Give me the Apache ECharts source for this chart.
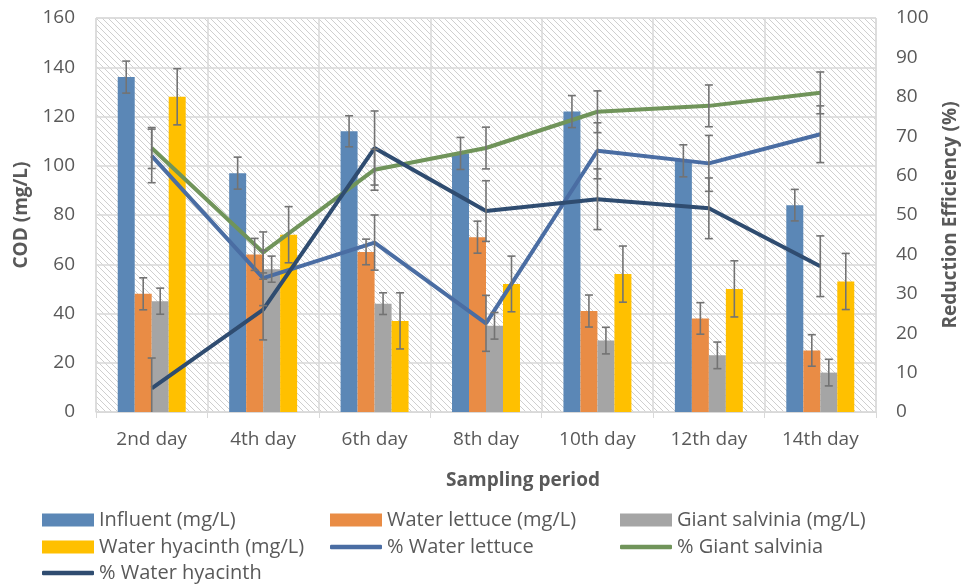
<!DOCTYPE html>
<html><head><meta charset="utf-8">
<script src="https://cdn.jsdelivr.net/npm/echarts@6/dist/echarts.min.js"></script>
<style>html,body{margin:0;padding:0;background:#fff}#c{width:966px;height:585px}</style>
</head><body><div id="c"></div>
<script>
const categories = ['2nd day','4th day','6th day','8th day','10th day','12th day','14th day'];
const influent = [136, 97, 114, 105, 122, 102, 84];
const waterLettuce = [48, 64, 65, 71, 41, 38, 25];
const giantSalvinia = [45, 58, 44, 35, 29, 23, 16];
const waterHyacinth = [128, 72, 37, 52, 56, 50, 53];
const pctWaterLettuce = [65, 34, 43, 22.5, 66.3, 63.1, 70.5];
const pctGiantSalvinia = [67, 40.5, 61.5, 67, 76.2, 77.7, 81];
const pctWaterHyacinth = [6, 26, 67, 51, 54, 51.7, 37];
const influentErr = [6.5, 6.5, 6.3, 6.5, 6.5, 6.5, 6.4];
const waterLettuceErr = [6.5, 6.5, 5.2, 6.5, 6.5, 6.4, 6.4];
const giantSalviniaErr = [5.3, 5.3, 4.4, 5.4, 5.4, 5.4, 5.4];
const waterHyacinthErr = [11.4, 11.4, 11.4, 11.3, 11.4, 11.4, 11.4];
const pctWaterLettuceErr = [6.8, 7, 7, 7.1, 7.1, 7.1, 7.2];
const pctGiantSalviniaErr = [5.2, 5.2, 5.2, 5.3, 5.3, 5.3, 5.3];
const pctWaterHyacinthErr = [7.7, 7.7, 9.4, 7.7, 7.7, 7.7, 7.7];

const FONT = '"Open Sans", "Noto Sans", sans-serif';
const FS = 19;
const TXT = '#595959';

// hatch pattern
const pc = document.createElement('canvas');
pc.width = 6; pc.height = 6;
const g = pc.getContext('2d');
g.fillStyle = '#ffffff'; g.fillRect(0,0,6,6);
g.strokeStyle = '#cfcfcf'; g.lineWidth = 1;
g.beginPath();
g.moveTo(0,0); g.lineTo(6,6);
g.moveTo(-1,5); g.lineTo(1,7);
g.moveTo(5,-1); g.lineTo(7,1);
g.stroke();

const GAP = 0.39;
function errSeries(name, vals, errs, slot, yAxisIndex) {
  return {
    type: 'custom', name: name + '_err', yAxisIndex: yAxisIndex, z: 10,
    data: vals.map((v, i) => [i, v, errs[i]]),
    encode: {x: 0, y: 1},
    silent: true,
    renderItem: function (params, api) {
      const xi = api.value(0), v = api.value(1), e = api.value(2);
      const band = api.size([1, 0])[0];
      const bw = band * (1 - GAP) / 4;
      const dx = slot === null ? 0 : (slot - 1.5) * bw;
      const top = api.coord([xi, v + e]);
      const lowV = v - e;
      const bot = api.coord([xi, Math.max(lowV, 0)]);
      const x = top[0] + dx;
      const st = {stroke: '#737373', lineWidth: 1.6};
      const ch = [
        {type: 'line', shape: {x1: x, y1: top[1], x2: x, y2: bot[1]}, style: st},
        {type: 'line', shape: {x1: x - 4, y1: top[1], x2: x + 4, y2: top[1]}, style: st}
      ];
      if (lowV >= 0) ch.push({type: 'line', shape: {x1: x - 4, y1: bot[1], x2: x + 4, y2: bot[1]}, style: st});
      return {type: 'group', children: ch};
    }
  };
}

const C = {
  inf: '#5B87B6', let: '#E98C45', sal: '#A5A5A5', hya: '#FFC000',
  pLet: '#4A6DA3', pSal: '#70945A', pHya: '#2F4C70'
};

function barS(name, data, color) {
  return {type: 'bar', name: name, data: data, barGap: 0, barCategoryGap: (GAP*100)+'%',
    itemStyle: {color: color}};
}
function lineS(name, data, color) {
  return {type: 'line', name: name, data: data, yAxisIndex: 1, symbol: 'none', z: 5,
    lineStyle: {color: color, width: 4}, itemStyle: {color: color}};
}

const legendText = {color: TXT, fontSize: 20, fontFamily: FONT};
const COLX = [42, 330, 620];
const ROWY = [522, 549, 575];
function leg(name, col, row, isLine) {
  return {left: COLX[col], top: ROWY[row] - 12, itemGap: 0, itemWidth: 52,
    itemHeight: isLine ? 4.5 : 13, icon: isLine ? 'roundRect' : 'rect',
    textStyle: legendText, data: [name], padding: 0,
    itemStyle: {borderWidth: 0}};
}

const chart = echarts.init(document.getElementById('c'), null, {renderer: 'canvas'});
chart.setOption({
  animation: false,
  backgroundColor: '#fff',
  grid: {left: 96, right: 90, top: 18, bottom: 173, show: true, containLabel: false,
    outerBoundsMode: 'none',
    backgroundColor: {image: pc, repeat: 'repeat'}, borderColor: '#d9d9d9', borderWidth: 1},
  legend: [
    leg('Influent (mg/L)', 0, 0, false),
    leg('Water lettuce (mg/L)', 1, 0, false),
    leg('Giant salvinia (mg/L)', 2, 0, false),
    leg('Water hyacinth (mg/L)', 0, 1, false),
    leg('% Water lettuce', 1, 1, true),
    leg('% Giant salvinia', 2, 1, true),
    leg('% Water hyacinth', 0, 2, true)
  ],
  xAxis: {
    type: 'category', data: categories,
    name: 'Sampling period', nameLocation: 'middle', nameGap: 59,
    nameTextStyle: {color: TXT, fontSize: FS, fontWeight: 'bold', fontFamily: FONT,
      padding: [0, 0, 0, 74]},
    axisLine: {lineStyle: {color: '#d9d9d9'}},
    axisTick: {show: true, length: 6, lineStyle: {color: '#d9d9d9'}},
    axisLabel: {color: TXT, fontSize: FS, fontFamily: FONT, margin: 18},
    splitLine: {show: true, lineStyle: {color: '#d9d9d9', width: 1.5}}
  },
  yAxis: [
    {type: 'value', min: 0, max: 160, interval: 20,
      name: 'COD (mg/L)', nameLocation: 'middle', nameGap: 64, nameRotate: 90,
      nameTextStyle: {color: TXT, fontSize: FS, fontWeight: 'bold', fontFamily: FONT},
      axisLine: {show: false}, axisTick: {show: false},
      axisLabel: {color: TXT, fontSize: FS, fontFamily: FONT, margin: 21},
      splitLine: {lineStyle: {color: '#d9d9d9', width: 1.5}}},
    {type: 'value', min: 0, max: 100, interval: 10,
      name: 'Reduction Efficiency (%)', nameLocation: 'middle', nameGap: 65, nameRotate: 90,
      nameTextStyle: {color: TXT, fontSize: FS, fontWeight: 'bold', fontFamily: FONT},
      axisLine: {show: false}, axisTick: {show: false},
      axisLabel: {color: TXT, fontSize: FS, fontFamily: FONT, margin: 20},
      splitLine: {show: false}}
  ],
  series: [
    barS('Influent (mg/L)', influent, C.inf),
    barS('Water lettuce (mg/L)', waterLettuce, C.let),
    barS('Giant salvinia (mg/L)', giantSalvinia, C.sal),
    barS('Water hyacinth (mg/L)', waterHyacinth, C.hya),
    lineS('% Water lettuce', pctWaterLettuce, C.pLet),
    lineS('% Giant salvinia', pctGiantSalvinia, C.pSal),
    lineS('% Water hyacinth', pctWaterHyacinth, C.pHya),
    errSeries('inf', influent, influentErr, 0, 0),
    errSeries('let', waterLettuce, waterLettuceErr, 1, 0),
    errSeries('sal', giantSalvinia, giantSalviniaErr, 2, 0),
    errSeries('hya', waterHyacinth, waterHyacinthErr, 3, 0),
    errSeries('plet', pctWaterLettuce, pctWaterLettuceErr, null, 1),
    errSeries('psal', pctGiantSalvinia, pctGiantSalviniaErr, null, 1),
    errSeries('phya', pctWaterHyacinth, pctWaterHyacinthErr, null, 1)
  ]
});
</script></body></html>
